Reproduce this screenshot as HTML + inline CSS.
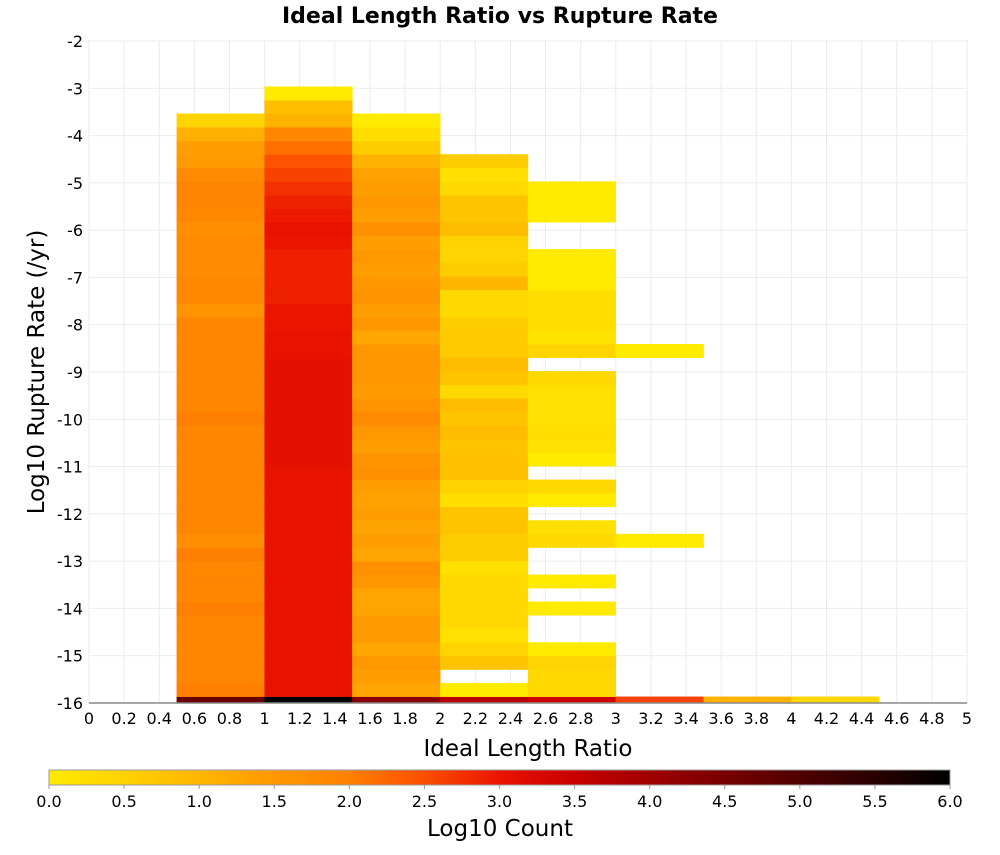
<!DOCTYPE html>
<html><head><meta charset="utf-8"><style>
body{margin:0;background:#fff;font-family:"Liberation Sans","DejaVu Sans",sans-serif;}
</style></head><body>
<svg id="chart" width="1000" height="850" xmlns="http://www.w3.org/2000/svg" font-family="DejaVu Sans, Liberation Sans, sans-serif">
<defs><linearGradient id="cbar" x1="0" x2="1" y1="0" y2="0"></linearGradient></defs>
<text x="500" y="23" text-anchor="middle" font-size="22" font-weight="bold">Ideal Length Ratio vs Rupture Rate</text>
<g id="grid"></g><g id="cells"></g><g id="axes"></g>
<text x="528" y="756" text-anchor="middle" font-size="23">Ideal Length Ratio</text>
<text transform="translate(44,372) rotate(-90)" text-anchor="middle" font-size="23">Log10 Rupture Rate (/yr)</text>
<rect x="49" y="770" width="901" height="15" fill="url(#cbar)" stroke="#999" stroke-width="1"/>
<g id="cbticks"></g>
<text x="500" y="836" text-anchor="middle" font-size="23">Log10 Count</text>
</svg>
<script>
// column bins (x ranges of Ideal Length Ratio)
const colStarts = [0.5, 1.0, 1.5, 2.0, 2.5, 3.0, 3.5, 4.0];
const colWidth = 0.5;
// log10 counts per column, index = row bin from bottom (null = empty)
const col1 = [4.7,2.0,1.85,1.85,1.85,1.85,1.85,2.0,1.85,1.9,1.85,2.0,1.7,1.85,1.85,1.85,1.85,1.85,1.85,1.85,1.85,2.0,1.85,1.85,1.85,1.85,1.85,1.85,1.85,1.6,1.83,1.83,1.75,1.75,1.75,1.7,1.83,1.9,1.9,1.8,1.45,1.4,1.1,0.45];
const col2 = [5.95,3.05,3.05,3.05,3.05,3.05,3.05,3.05,3.05,3.05,3.05,3.05,3.05,3.05,3.05,3.05,3.05,3.05,3.1,3.1,3.1,3.1,3.1,3.1,3.1,3.1,3.05,3.05,3.0,3.0,2.9,2.9,2.9,2.9,3.0,3.05,2.95,2.88,2.75,2.6,2.45,2.15,1.85,1.05,0.85,0];
const col3 = [4.3,1.3,1.4,1.5,1.25,1.45,1.45,1.3,1.3,1.5,1.65,1.3,1.4,1.3,1.4,1.35,1.4,1.65,1.6,1.4,1.5,1.75,1.6,1.45,1.5,1.5,1.5,1.25,1.5,1.4,1.6,1.5,1.4,1.5,1.4,1.65,1.4,1.5,1.4,1.35,1.05,0.6,0.25,0];
const col4 = [3.7,0,null,0.75,0.45,0.2,0.35,0.35,0.35,0.35,0.2,0.6,0.6,0.75,0.75,0.25,0.5,0.8,0.8,0.75,0.9,0.75,0.9,0.35,0.75,0.9,0.65,0.65,0.6,0.35,0.35,1.0,0.6,0.45,0.5,0.9,0.75,0.75,0.35,0.2,0.6];
const col5 = [3.4,0.35,0.35,0.45,0,null,null,0,null,0,null,null,0.35,0.2,null,0,0.35,null,0,0.2,0.25,0.2,0.2,0.2,0.35,null,0.45,0.15,0.25,0.25,0.25,0,0,0,null,null,0,0,0];
const col6 = [2.6,null,null,null,null,null,null,null,null,null,null,null,0,null,null,null,null,null,null,null,null,null,null,null,null,null,0];
const col7 = [1.05];
const col8 = [0.4];
const columns = [col1,col2,col3,col4,col5,col6,col7,col8];
const xTicks = ["0","0.2","0.4","0.6","0.8","1","1.2","1.4","1.6","1.8","2","2.2","2.4","2.6","2.8","3","3.2","3.4","3.6","3.8","4","4.2","4.4","4.6","4.8","5"];
const yTicks = ["-2","-3","-4","-5","-6","-7","-8","-9","-10","-11","-12","-13","-14","-15","-16"];
const cbTicks = ["0.0","0.5","1.0","1.5","2.0","2.5","3.0","3.5","4.0","4.5","5.0","5.5","6.0"];

const NS="http://www.w3.org/2000/svg";
const PL=89,PR=967,PT=41,PB=703;
const xMin=0,xMax=5,yMin=-16,yMax=-2;
function xs(v){return PL+(v-xMin)/(xMax-xMin)*(PR-PL);}
function ys(v){return PB-(v-yMin)/(yMax-yMin)*(PB-PT);}
const rowBase=-15.867, rowH=0.2867;
function rowRange(k){ if(k===0) return [yMin,rowBase]; return [rowBase+(k-1)*rowH,rowBase+k*rowH]; }
const stops=[[0,[255,234,0]],[0.5,[255,210,0]],[1,[255,182,0]],[1.5,[255,152,0]],[2,[255,128,0]],[2.5,[250,78,0]],[3,[235,20,0]],[3.5,[200,0,0]],[4,[160,0,0]],[4.5,[120,0,0]],[5,[80,0,0]],[5.5,[40,0,0]],[6,[0,0,0]]];
function cmap(v){
  v=Math.max(0,Math.min(6,v));
  for(let i=0;i<stops.length-1;i++){
    const a=stops[i],b=stops[i+1];
    if(v<=b[0]){const t=(v-a[0])/(b[0]-a[0]);
      const c=a[1].map((x,j)=>Math.round(x+(b[1][j]-x)*t));return `rgb(${c[0]},${c[1]},${c[2]})`;}
  }
  return "rgb(0,0,0)";
}
function mk(tag,attrs,parent){const e=document.createElementNS(NS,tag);for(const k in attrs)e.setAttribute(k,attrs[k]);parent.appendChild(e);return e;}

const grid=document.getElementById('grid');
mk('rect',{x:PL,y:PT,width:PR-PL,height:PB-PT,fill:'#fff',stroke:'#bbb'},grid);
for(let i=0;i<xTicks.length;i++){const x=xs(parseFloat(xTicks[i]));
  const l=mk('line',{x1:x,x2:x,y1:PT,y2:PB,stroke:'#ebebeb'},grid);
  
  }
for(let i=0;i<yTicks.length;i++){const y=ys(parseFloat(yTicks[i]));
  const l=mk('line',{x1:PL,x2:PR,y1:y,y2:y,stroke:'#ebebeb'},grid);
  
  }

const cells=document.getElementById('cells');
columns.forEach((col,ci)=>{
  const x0=xs(colStarts[ci]),x1=xs(colStarts[ci]+colWidth);
  col.forEach((v,k)=>{
    if(v===null||v===undefined) return;
    const r=rowRange(k);
    const yTop=ys(r[1]),yBot=ys(r[0]);
    const c=mk('rect',{x:x0,y:yTop,width:x1-x0,height:yBot-yTop,fill:cmap(v),stroke:cmap(v),'stroke-width':0.4},cells);
    
    
  });
});

const axes=document.getElementById('axes');
mk('line',{x1:PL,x2:PR,y1:PB,y2:PB,stroke:'#888','stroke-width':1.5},axes);
xTicks.forEach(t=>{const x=xs(parseFloat(t));
  const tx=mk('text',{x:x,y:724,'text-anchor':'middle','font-size':16},axes);tx.textContent=t;
  
  });
yTicks.forEach(t=>{const y=ys(parseFloat(t));
  const tx=mk('text',{x:83,y:y+6,'text-anchor':'end','font-size':16},axes);tx.textContent=t;
  
  });

const grad=document.getElementById('cbar');
stops.forEach(s=>{mk('stop',{offset:(s[0]/6*100)+'%','stop-color':cmap(s[0])},grad);});
const cbt=document.getElementById('cbticks');
cbTicks.forEach(t=>{const x=49+parseFloat(t)/6*901;
  mk('line',{x1:x,x2:x,y1:785,y2:789,stroke:'#999'},cbt);
  const tx=mk('text',{x:x,y:807,'text-anchor':'middle','font-size':16},cbt);tx.textContent=t;
  
  });
</script>
</body></html>
